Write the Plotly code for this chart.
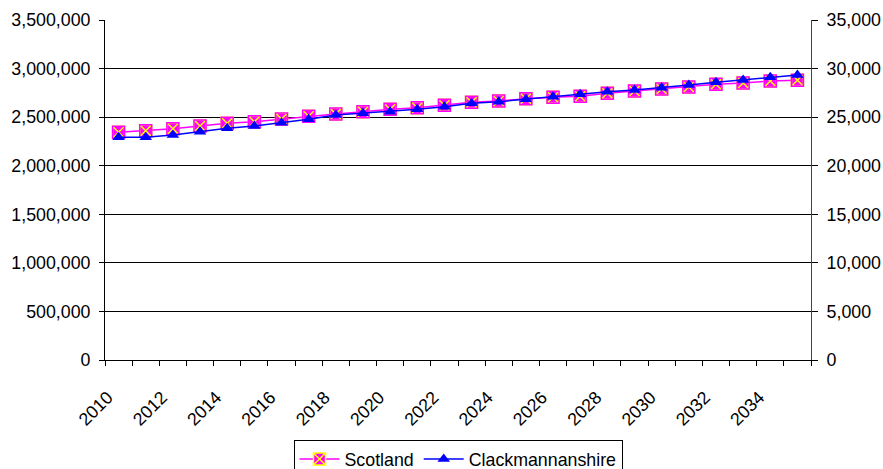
import plotly.graph_objects as go

years = list(range(2010, 2036))
scotland = [2345000, 2360000, 2381000, 2409000, 2437000, 2453000, 2481000, 2509000,
            2532000, 2556000, 2581000, 2597000, 2622000, 2653000, 2666000, 2690000,
            2704000, 2715000, 2745000, 2769000, 2790000, 2810000, 2838000, 2851000,
            2872000, 2879000]
clackmannanshire = [22920, 22920, 23160, 23500, 23850, 24090, 24430, 24780,
                    25220, 25400, 25560, 25810, 26080, 26420, 26590, 26840,
                    27110, 27350, 27620, 27790, 28030, 28310, 28590, 28820,
                    29100, 29340]
label_years = list(range(2010, 2035, 2))

FONT = "Liberation Sans, Arial, sans-serif"
FS = 17.8

fig = go.Figure()
fig.add_trace(go.Scatter(
    x=years, y=scotland, name="Scotland", mode="lines+markers",
    line=dict(color="#FF00FF", width=1.5),
    marker=dict(symbol="square-x", size=12, color="#FF00FF",
                line=dict(color="#FFFF00", width=1.5)),
))
fig.add_trace(go.Scatter(
    x=years, y=scotland, mode="markers", showlegend=False, hoverinfo="skip",
    marker=dict(symbol="square-open", size=12, color="#FF00FF",
                line=dict(color="#FF00FF", width=1.5)),
))
fig.add_trace(go.Scatter(
    x=years, y=clackmannanshire, name="Clackmannanshire", mode="lines+markers",
    yaxis="y2",
    line=dict(color="#0000FF", width=1.5),
    marker=dict(symbol="triangle-up", size=11, color="#0000FF",
                line=dict(width=0)),
))

fig.update_layout(
    width=883, height=469,
    margin=dict(l=105, r=72, t=20, b=109),
    paper_bgcolor="white", plot_bgcolor="white",
    font=dict(family=FONT, size=FS, color="black"),
    showlegend=True,
    legend=dict(orientation="h", x=0.5, xanchor="center",
                yref="container", y=1 - 440 / 469, yanchor="top",
                bordercolor="black", borderwidth=1, font=dict(size=FS),
                itemwidth=40, tracegroupgap=0),
    xaxis=dict(
        type="linear", range=[2009.5, 2035.5], automargin=False,
        tickmode="array", tickvals=label_years, ticktext=[str(y) for y in label_years],
        tickangle=-45, ticks="", showgrid=False, zeroline=False,
        showline=True, linecolor="black", linewidth=1,
        minor=dict(ticks="outside", tick0=2009.5, dtick=1, ticklen=5,
                   tickcolor="black", tickwidth=1, showgrid=False),
        ticklabelstandoff=19, ticklabelshift=-11,
    ),
    yaxis=dict(
        range=[0, 3500000], dtick=500000, tickformat=",", automargin=False,
        ticks="outside", ticklen=5, tickcolor="black", ticklabelstandoff=5,
        showgrid=True, gridcolor="black", gridwidth=1, zeroline=False,
        showline=True, linecolor="black", linewidth=1,
    ),
    yaxis2=dict(
        range=[0, 35000], dtick=5000, tickformat=",", overlaying="y", side="right",
        automargin=False,
        ticks="outside", ticklen=6, tickcolor="black", ticklabelstandoff=5,
        showgrid=False, zeroline=False,
        showline=True, linecolor="#444444", linewidth=1,
    ),
)

fig.write_html("out.html")
